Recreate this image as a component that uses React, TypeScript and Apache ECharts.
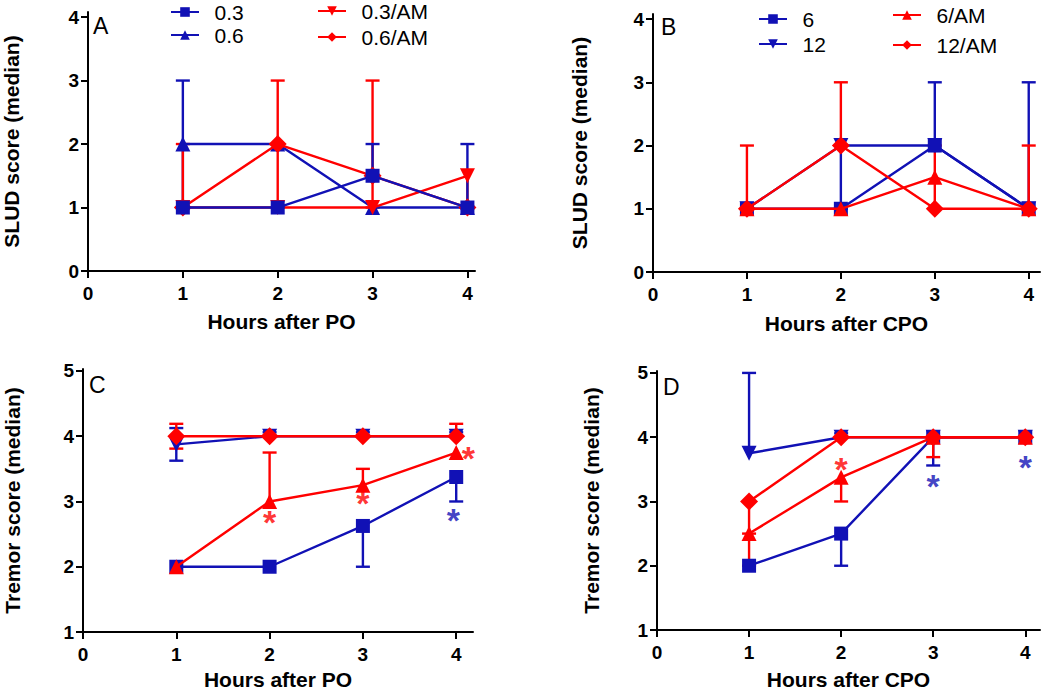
import React, { useEffect, useRef } from "react";
import * as echarts from "echarts";

// ---------- data ----------
const hours = [1, 2, 3, 4];

// Panel A (PO, SLUD)
const a03 = [1, 1, 1.5, 1];
const a06 = [2, 2, 1, 1];
const a03AM = [1, 1, 1, 1.5];
const a06AM = [1, 2, 1.5, 1];
// whiskers: [hour, from, to]
const errA03 = [[3, 1.5, 2], [4, 1, 2]];
const errA06 = [[1, 2, 3], [1, 2, 1]];
const errA03AM = [[1, 1, 2], [4, 1.5, 1]];
const errA06AM = [[2, 2, 3], [2, 2, 1], [3, 1.5, 3], [3, 1.5, 1]];

// Panel B (CPO, SLUD)
const b6 = [1, 1, 2, 1];
const b12 = [1, 2, 2, 1];
const b6AM = [1, 1, 1.5, 1];
const b12AM = [1, 2, 1, 1];
const errB6 = [[3, 2, 3], [4, 1, 3]];
const errB12 = [[2, 2, 1]];
const errB6AM = [[3, 1.5, 2], [3, 1.5, 1]];
const errB12AM = [[1, 1, 2], [2, 2, 3], [4, 1, 2]];

// Panel C (PO, tremor)
const c03 = [2, 2, 2.625, 3.375];
const c06 = [3.875, 4, 4, 4];
const c03AM = [2, 3, 3.25, 3.75];
const c06AM = [4, 4, 4, 4];
const errC03 = [[3, 2.625, 2], [4, 3.375, 3]];
const errC06 = [[1, 3.875, 3.625], [1, 3.875, 4.125], [2, 4, 4.06], [3, 4, 4.06], [4, 4, 4.06]];
const errC03AM = [[2, 3, 3.75], [3, 3.25, 3.5]];
const errC06AM = [[1, 4, 4.19], [1, 4, 3.81], [4, 4, 4.19]];
const starsCRed = [[2, 2.76], [3, 3.05], [4.13, 3.74]];
const starsCBlue = [[3.97, 2.79]];

// Panel D (CPO, tremor)
const d6 = [2, 2.5, 4, 4];
const d12 = [3.75, 4, 4, 4];
const d6AM = [2.5, 3.375, 4, 4];
const d12AM = [3, 4, 4, 4];
const errD6 = [[2, 2.5, 2]];
const errD12 = [[1, 3.75, 5], [2, 4, 4.06], [3, 4, 3.56]];
const errD6AM = [[1, 2.5, 2], [2, 3.375, 3], [3, 4, 3.69]];
const errD12AM = [[1, 3, 2.5]];
const starsDRed = [[2, 3.58]];
const starsDBlue = [[3, 3.32], [4, 3.62]];

const BLUE = "#1111b5";
const RED = "#ff0000";
const FONT = "Arial, 'Liberation Sans', sans-serif";

const SQ = { symbol: "rect", size: 14, rot: 0 };
const TUP = { symbol: "triangle", size: 15, rot: 0 };
const TDN = { symbol: "triangle", size: 15, rot: 180 };
const DIA = { symbol: "diamond", size: 18, rot: 0 };

function lineS(name: string, vals: number[], mk: any, color: string, gi: number, z: number) {
  return {
    type: "line",
    name,
    xAxisIndex: gi,
    yAxisIndex: gi,
    data: hours.map((h, i) => [h, vals[i]]),
    symbol: mk.symbol,
    symbolSize: mk.size,
    symbolRotate: mk.rot,
    showAllSymbol: true,
    lineStyle: { color, width: 2.4 },
    itemStyle: { color },
    z,
  };
}

function errS(data: number[][], color: string, gi: number) {
  return {
    type: "custom",
    xAxisIndex: gi,
    yAxisIndex: gi,
    data,
    z: 1,
    silent: true,
    renderItem: (params: any, api: any) => {
      const x = api.value(0);
      const p0 = api.coord([x, api.value(1)]);
      const p1 = api.coord([x, api.value(2)]);
      const w = 7;
      return {
        type: "group",
        children: [
          { type: "line", shape: { x1: p0[0], y1: p0[1], x2: p1[0], y2: p1[1] }, style: { stroke: color, lineWidth: 2.4 } },
          { type: "line", shape: { x1: p1[0] - w, y1: p1[1], x2: p1[0] + w, y2: p1[1] }, style: { stroke: color, lineWidth: 2.4 } },
        ],
      };
    },
  };
}

function starS(data: number[][], color: string, gi: number) {
  return {
    type: "scatter",
    xAxisIndex: gi,
    yAxisIndex: gi,
    data,
    symbolSize: 0,
    silent: true,
    z: 5,
    label: {
      show: true,
      position: "inside",
      formatter: "*",
      color,
      fontSize: 34,
      fontWeight: "bold",
      fontFamily: FONT,
      offset: [0, 5],
    },
  };
}

function xAx(gi: number, max: number, name: string, nameGap: number) {
  return {
    type: "value",
    gridIndex: gi,
    min: 0,
    max,
    interval: 1,
    axisLine: { show: true, onZero: false, lineStyle: { color: "#000", width: 2 } },
    axisTick: { show: true, length: 7, lineStyle: { color: "#000", width: 2 } },
    axisLabel: { fontSize: 19, fontWeight: "bold", color: "#000", margin: 13, fontFamily: FONT, showMaxLabel: false },
    splitLine: { show: false },
    name,
    nameLocation: "middle",
    nameGap,
    nameTextStyle: { fontSize: 21, fontWeight: "bold", color: "#000", fontFamily: FONT },
  };
}

function yAx(gi: number, min: number, max: number, name: string, nameGap: number) {
  return {
    type: "value",
    gridIndex: gi,
    min,
    max,
    interval: 1,
    axisLine: { show: true, onZero: false, lineStyle: { color: "#000", width: 2 } },
    axisTick: { show: true, length: 7, lineStyle: { color: "#000", width: 2 } },
    axisLabel: { fontSize: 19, fontWeight: "bold", color: "#000", margin: 9, fontFamily: FONT, showMaxLabel: false },
    splitLine: { show: false },
    name,
    nameLocation: "middle",
    nameGap,
    nameTextStyle: { fontSize: 21, fontWeight: "bold", color: "#000", fontFamily: FONT },
  };
}

function legendAt(names: string[], left: number, top: number, gap: number) {
  return {
    data: names,
    orient: "vertical",
    left,
    top,
    padding: 0,
    itemWidth: 28,
    itemHeight: 12,
    itemGap: gap,
    selectedMode: false,
    formatter: (n: string) => "\u2002" + n,
    textStyle: { fontSize: 21, color: "#000", fontFamily: FONT, lineHeight: 22 },
  };
}

function letter(t: string, left: number, top: number) {
  return { type: "text", left, top, style: { text: t, fontSize: 23, fill: "#000", fontFamily: FONT } };
}

export default function App() {
  const ref = useRef<HTMLDivElement>(null);
  useEffect(() => {
    document.body.style.margin = "0";
    const chart = echarts.init(ref.current!, null, { renderer: "svg" });
    const option = {
      animation: false,
      backgroundColor: "#fff",
      grid: [
        { left: 86, top: 12, width: 389, height: 259 },
        { left: 653, top: 14, width: 387, height: 258 },
        { left: 83, top: 369, width: 390, height: 263 },
        { left: 657, top: 371, width: 383, height: 262 },
      ],
      xAxis: [
        xAx(0, 4.08, "Hours after PO", 40),
        xAx(1, 4.12, "Hours after CPO", 41),
        xAx(2, 4.18, "Hours after PO", 37),
        xAx(3, 4.16, "Hours after CPO", 39),
      ],
      yAxis: [
        yAx(0, 0, 4.08, "SLUD score (median)", 66),
        yAx(1, 0, 4.08, "SLUD score (median)", 63),
        yAx(2, 1, 5.03, "Tremor score (median)", 60),
        yAx(3, 1, 5.03, "Tremor score (median)", 55),
      ],
      legend: [
        legendAt(["0.3", "0.6"], 170, 1, 1),
        legendAt(["0.3/AM", "0.6/AM"], 317, 0, 4),
        legendAt(["6", "12"], 758, 8, 3),
        legendAt(["6/AM", "12/AM"], 892, 4, 8),
      ],
      graphic: [letter("A", 93, 14), letter("B", 661, 15), letter("C", 89, 373), letter("D", 663, 375)],
      series: [
        // A
        errS(errA06, BLUE, 0),
        errS(errA03AM, RED, 0),
        errS(errA06AM, RED, 0),
        errS(errA03, BLUE, 0),
        lineS("0.6", a06, TUP, BLUE, 0, 2),
        lineS("0.3/AM", a03AM, TDN, RED, 0, 3),
        lineS("0.6/AM", a06AM, DIA, RED, 0, 4),
        lineS("0.3", a03, SQ, BLUE, 0, 5),
        // B
        errS(errB12, BLUE, 1),
        errS(errB6, BLUE, 1),
        errS(errB6AM, RED, 1),
        errS(errB12AM, RED, 1),
        lineS("12", b12, TDN, BLUE, 1, 2),
        lineS("6", b6, SQ, BLUE, 1, 3),
        lineS("6/AM", b6AM, TUP, RED, 1, 4),
        lineS("12/AM", b12AM, DIA, RED, 1, 5),
        // C
        errS(errC03, BLUE, 2),
        errS(errC06, BLUE, 2),
        errS(errC03AM, RED, 2),
        errS(errC06AM, RED, 2),
        lineS("C 0.3", c03, SQ, BLUE, 2, 2),
        lineS("C 0.6", c06, TDN, BLUE, 2, 3),
        lineS("C 0.3/AM", c03AM, TUP, RED, 2, 4),
        lineS("C 0.6/AM", c06AM, DIA, RED, 2, 5),
        starS(starsCRed, RED, 2),
        starS(starsCBlue, BLUE, 2),
        // D
        errS(errD6, BLUE, 3),
        errS(errD12, BLUE, 3),
        errS(errD6AM, RED, 3),
        errS(errD12AM, RED, 3),
        lineS("D 6", d6, SQ, BLUE, 3, 2),
        lineS("D 12", d12, TDN, BLUE, 3, 3),
        lineS("D 6/AM", d6AM, TUP, RED, 3, 4),
        lineS("D 12/AM", d12AM, DIA, RED, 3, 5),
        starS(starsDRed, RED, 3),
        starS(starsDBlue, BLUE, 3),
      ],
    };
    chart.setOption(option as any);
    return () => chart.dispose();
  }, []);
  return <div ref={ref} style={{ width: 1050, height: 691, background: "#fff" }} />;
}
